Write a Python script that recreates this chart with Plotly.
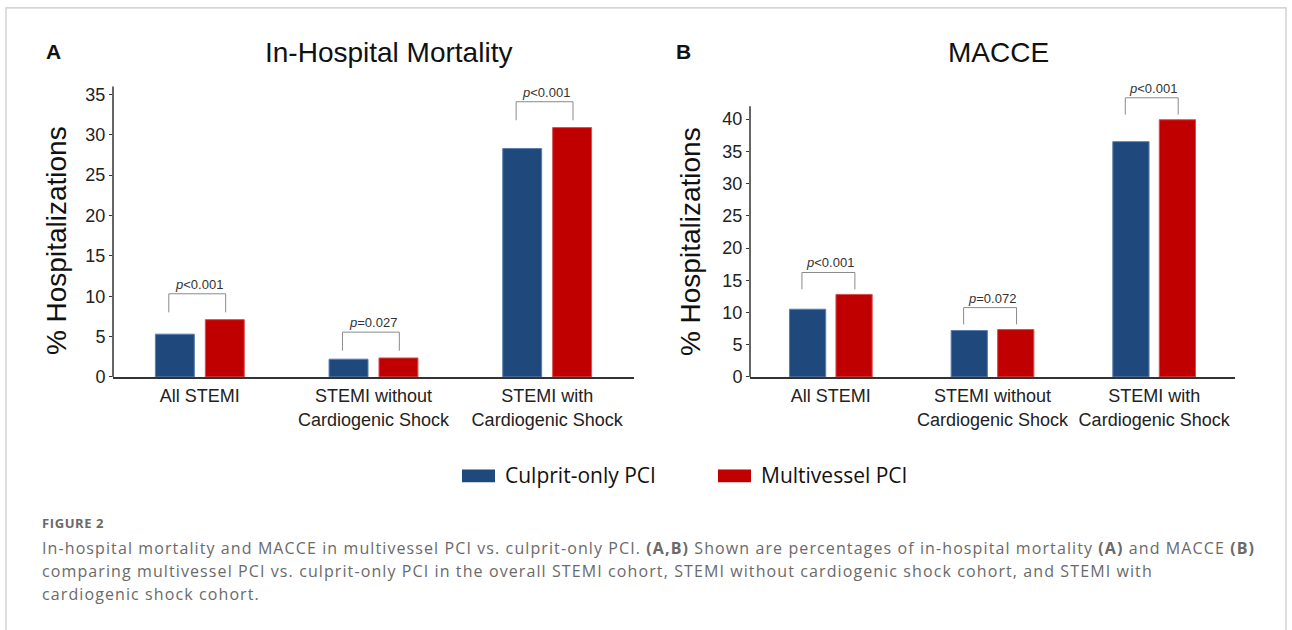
import plotly.graph_objects as go

# ---------------- data ----------------
categories = ["All STEMI", "STEMI without<br>Cardiogenic Shock", "STEMI with<br>Cardiogenic Shock"]
series_names = ["Culprit-only PCI", "Multivessel PCI"]

mortality_culprit = [5.3, 2.2, 28.3]
mortality_multi = [7.1, 2.35, 30.9]
macce_culprit = [10.5, 7.2, 36.5]
macce_multi = [12.8, 7.35, 39.9]

mortality_p = ["<i>p</i><0.001", "<i>p</i>=0.027", "<i>p</i><0.001"]
macce_p = ["<i>p</i><0.001", "<i>p</i>=0.072", "<i>p</i><0.001"]

mortality_ticks = [0, 5, 10, 15, 20, 25, 30, 35]
macce_ticks = [0, 5, 10, 15, 20, 25, 30, 35, 40]

panel_titles = ["In-Hospital Mortality", "MACCE"]
panel_letters = ["A", "B"]
y_title = "% Hospitalizations"

caption_head = "FIGURE 2"
caption_lines = [
    "In-hospital mortality and MACCE in multivessel PCI vs. culprit-only PCI. <b>(A,B)</b> Shown are percentages of in-hospital mortality <b>(A)</b> and MACCE <b>(B)</b>",
    "comparing multivessel PCI vs. culprit-only PCI in the overall STEMI cohort, STEMI without cardiogenic shock cohort, and STEMI with",
    "cardiogenic shock cohort.",
]

# ---------------- style ----------------
W, H = 1292, 630
BLUE = "#1F497D"
RED = "#C00000"
AX = "#333333"
CHART_FONT = "Liberation Sans, Arial, sans-serif"
CAP_FONT = "Open Sans, Noto Sans, sans-serif"


def px(x):
    return x / W


def py(y):
    return 1 - y / H


ZERO_Y = 383
panels = [
    dict(c=mortality_culprit, m=mortality_multi, p=mortality_p, ticks=mortality_ticks,
         x0=113, x1=634, ppu=8.2, rng=38, axtop=36, dlo=0.9, dhi=3.2,
         title_x=388, letter_x=53, ytitle_x=56),
    dict(c=macce_culprit, m=macce_multi, p=macce_p, ticks=macce_ticks,
         x0=750, x1=1235, ppu=6.55, rng=46, axtop=42, dlo=0.8, dhi=3.4,
         title_x=998, letter_x=683, ytitle_x=690),
]

fig = go.Figure()
shapes = []
annotations = []
BARGAP = 0.425
GROUPGAP = 0.22
offset = (1 - BARGAP) / 4
layout_axes = {}

for i, pn in enumerate(panels):
    sfx = "" if i == 0 else str(i + 1)
    xa, ya = "x" + sfx, "y" + sfx
    xs = list(range(len(categories)))
    fig.add_trace(go.Bar(x=xs, y=pn["c"], name=series_names[0], marker=dict(color=BLUE, line=dict(color="#5b7fae", width=1)),
                         xaxis=xa, yaxis=ya, showlegend=False, offsetgroup="a"))
    fig.add_trace(go.Bar(x=xs, y=pn["m"], name=series_names[1], marker=dict(color=RED, line=dict(color="#d65050", width=1)),
                         xaxis=xa, yaxis=ya, showlegend=False, offsetgroup="b"))
    top_px = ZERO_Y - pn["rng"] * pn["ppu"]
    layout_axes["xaxis" + sfx] = dict(domain=[px(pn["x0"]), px(pn["x1"])], range=[-0.5, 2.5], anchor=ya,
                                      tickvals=xs, ticktext=categories, showline=True, linecolor=AX, linewidth=1.5,
                                      ticks="", showgrid=False, zeroline=False, ticklabelstandoff=2,
                                      tickfont=dict(family=CHART_FONT, size=18, color="#222"), fixedrange=True)
    layout_axes["yaxis" + sfx] = dict(domain=[py(ZERO_Y), py(top_px)], range=[0, pn["rng"]], anchor=xa,
                                      tickvals=pn["ticks"], showline=False, ticks="outside", ticklen=3,
                                      tickcolor=AX, tickwidth=1, showgrid=False, zeroline=False,
                                      tickfont=dict(family=CHART_FONT, size=18, color="#222"), fixedrange=True)
    # y axis line up to its top value
    shapes.append(dict(type="line", xref=xa + " domain", yref=ya, x0=0, x1=0, y0=0, y1=pn["axtop"],
                       line=dict(color=AX, width=1.5)))
    # significance brackets
    for k in range(len(categories)):
        mx = max(pn["c"][k], pn["m"][k])
        lo, hi = mx + pn["dlo"], mx + pn["dhi"]
        xl, xr = k - offset - 0.035, k + offset + 0.005
        shapes.append(dict(type="path", xref=xa, yref=ya,
                           path=f"M {xl},{lo} L {xl},{hi} L {xr},{hi} L {xr},{lo}",
                           line=dict(color="#8a8a8a", width=1)))
        annotations.append(dict(x=(xl + xr) / 2 + 0.01, y=hi, xref=xa, yref=ya, text=pn["p"][k], showarrow=False,
                                yanchor="bottom", yshift=0, font=dict(family=CHART_FONT, size=13, color="#333")))
    # titles, letters, y titles
    annotations.append(dict(x=px(pn["title_x"]), y=py(53), xref="paper", yref="paper", text=panel_titles[i],
                            showarrow=False, xanchor="center", yanchor="middle",
                            font=dict(family=CHART_FONT, size=28, color="#111")))
    annotations.append(dict(x=px(pn["letter_x"]), y=py(52), xref="paper", yref="paper", text=f"<b>{panel_letters[i]}</b>",
                            showarrow=False, xanchor="center", yanchor="middle",
                            font=dict(family=CHART_FONT, size=21, color="#111")))
    annotations.append(dict(x=px(pn["ytitle_x"]), y=py(245), xref="paper", yref="paper", text=y_title,
                            showarrow=False, textangle=-90, xanchor="center", yanchor="middle",
                            font=dict(family=CHART_FONT, size=28, color="#111")))

# custom legend
legend_items = [(series_names[0], BLUE, 462), (series_names[1], RED, 718)]
for name, col, x in legend_items:
    shapes.append(dict(type="rect", xref="paper", yref="paper", x0=px(x), x1=px(x + 33), y0=py(490), y1=py(477),
                       fillcolor=col, line=dict(width=0)))
    annotations.append(dict(x=px(x + 41), y=py(483), xref="paper", yref="paper", text=name, showarrow=False,
                            xanchor="left", yanchor="middle", font=dict(family=CAP_FONT, size=21, color="#111")))

# outer frame
shapes.append(dict(type="rect", xref="paper", yref="paper", x0=px(6), x1=px(1286), y0=-0.2, y1=py(8),
                   line=dict(color="#c8c8c8", width=1.2), fillcolor="rgba(0,0,0,0)", layer="below"))

# caption
annotations.append(dict(x=px(40), y=py(531), xref="paper", yref="paper",
                        text=f"<span style='letter-spacing:0.6px'><b>{caption_head}</b></span>", showarrow=False,
                        xanchor="left", yanchor="middle", font=dict(family=CAP_FONT, size=13, color="#6a6a6a")))
for j, line in enumerate(caption_lines):
    annotations.append(dict(x=px(40), y=py(557 + 23.5 * j), xref="paper", yref="paper",
                            text=f"<span style='letter-spacing:1.1px'>{line}</span>", showarrow=False,
                            xanchor="left", yanchor="middle", align="left",
                            font=dict(family=CAP_FONT, size=16, color="#6a6a6a")))

fig.update_layout(
    width=W, height=H, margin=dict(l=0, r=0, t=0, b=0),
    paper_bgcolor="white", plot_bgcolor="white",
    barmode="group", bargap=BARGAP, bargroupgap=GROUPGAP,
    shapes=shapes, annotations=annotations, showlegend=False,
    **layout_axes,
)

post = (
    "document.documentElement.style.margin='0';document.documentElement.style.overflow='hidden';"
    "document.body.style.margin='0';document.body.style.overflow='hidden';"
    "var gd=document.getElementById('{plot_id}');gd.style.position='fixed';gd.style.top='0px';gd.style.left='0px';"
)
fig.write_html("out.html", config={"displayModeBar": False}, post_script=post)
